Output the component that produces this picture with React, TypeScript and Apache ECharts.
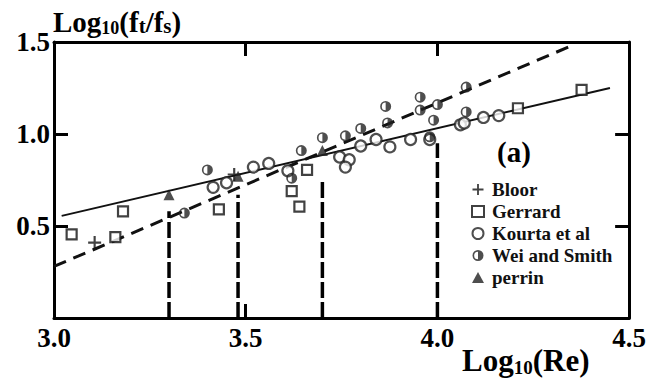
import React, { useEffect, useRef } from 'react';
import * as echarts from 'echarts';

// ---- data ----
const bloor: number[][] = [[3.106, 0.41], [3.47, 0.78]];
const gerrard: number[][] = [
  [3.046, 0.454], [3.18, 0.58], [3.16, 0.44], [3.43, 0.59], [3.62, 0.69],
  [3.64, 0.605], [3.66, 0.805], [4.21, 1.14], [4.376, 1.24],
];
const kourta: number[][] = [
  [3.415, 0.71], [3.45, 0.735], [3.52, 0.82], [3.56, 0.84], [3.61, 0.80],
  [3.745, 0.875], [3.77, 0.86], [3.76, 0.82], [3.80, 0.935], [3.84, 0.97],
  [3.876, 0.93], [3.93, 0.97], [3.98, 0.97], [4.06, 1.05], [4.12, 1.09],
  [4.16, 1.10], [4.07, 1.06],
];
const wei: number[][] = [
  [3.34, 0.57], [3.40, 0.805], [3.62, 0.76], [3.645, 0.91], [3.70, 0.98],
  [3.76, 0.99], [3.80, 1.03], [3.865, 1.15], [3.87, 1.06], [3.955, 1.20],
  [3.955, 1.13], [4.0, 1.16], [3.99, 1.075], [3.98, 0.985], [4.075, 1.255],
  [4.075, 1.12],
];
const perrin: number[][] = [[3.30, 0.67], [3.48, 0.77], [3.70, 0.91]];
const solidFit: number[][] = [[3.02, 0.555], [4.45, 1.25]];
const dashedFit: number[][] = [[3.0, 0.28], [4.35, 1.48]];
const dropX: number[] = [3.3, 3.48, 3.7, 4.0];
const dropTop: number[] = [0.58, 0.67, 0.76, 0.95];
const legendNames: string[] = ['Bloor', 'Gerrard', 'Kourta et al', 'Wei and Smith', 'perrin'];

const FONT = '"Liberation Serif", "Times New Roman", serif';
const PLUS = 'path://M5,0H7V5H12V7H7V12H5V7H0V5H5Z';
const HALF =
  'path://M10,0A10,10,0,1,1,10,20A10,10,0,1,1,10,0ZM10,3A7,7,0,1,0,10,17A7,7,0,1,0,10,3ZM10,3A7,7,0,0,1,10,17Z';

export default function App() {
  const ref = useRef<HTMLDivElement>(null);
  useEffect(() => {
    if (!ref.current) return;
    const chart = echarts.init(ref.current, undefined, { renderer: 'svg' });
    const axisLine = { onZero: false, lineStyle: { color: '#000', width: 3 } };
    const axisTick = { inside: true, length: 14, lineStyle: { color: '#000', width: 3 } };
    const labelStyle = { fontFamily: FONT, fontWeight: 'bold' as const, fontSize: 27, color: '#000' };
    const drops = dropX.map((x, i) => ({
      type: 'line' as const,
      data: [[x, 0], [x, dropTop[i]]],
      symbol: 'none',
      z: 1,
      lineStyle: { color: '#000', width: 3.5, type: [16, 4] },
    }));
    chart.setOption({
      animation: false,
      backgroundColor: '#fff',
      grid: { left: 54, right: 12, top: 42, bottom: 65 },
      xAxis: [
        {
          type: 'value', min: 3, max: 4.5, interval: 0.5, position: 'bottom',
          axisLine, axisTick, splitLine: { show: false },
          axisLabel: { ...labelStyle, margin: 6, formatter: (v: number) => v.toFixed(1) },
        },
        {
          type: 'value', min: 3, max: 4.5, interval: 0.5, position: 'top',
          axisLine, axisTick, splitLine: { show: false }, axisLabel: { show: false },
        },
      ],
      yAxis: [
        {
          type: 'value', min: 0, max: 1.5, interval: 0.5, position: 'left',
          axisLine, axisTick, splitLine: { show: false },
          axisLabel: { ...labelStyle, margin: 4, formatter: (v: number) => (v === 0 ? '' : v.toFixed(1)) },
        },
        {
          type: 'value', min: 0, max: 1.5, interval: 0.5, position: 'right',
          axisLine, axisTick, splitLine: { show: false }, axisLabel: { show: false },
        },
      ],
      legend: {
        data: legendNames,
        orient: 'vertical',
        left: 471,
        top: 180,
        padding: 0,
        itemWidth: 12,
        itemHeight: 11,
        itemGap: 3,
        textStyle: {
          fontFamily: FONT, fontWeight: 'bold', fontSize: 19, color: '#111',
          lineHeight: 19, padding: [0, 0, 0, 3],
        },
      },
      series: [
        ...drops,
        {
          type: 'line', data: dashedFit, symbol: 'none', z: 2,
          lineStyle: { color: '#111', width: 3, type: [13, 8] },
        },
        {
          type: 'line', data: solidFit, symbol: 'none', z: 2,
          lineStyle: { color: '#111', width: 2 },
        },
        {
          name: 'Bloor', type: 'scatter', data: bloor, symbol: PLUS, symbolSize: 13, z: 5,
          itemStyle: { color: '#111' },
        },
        {
          name: 'Gerrard', type: 'scatter', data: gerrard, symbol: 'rect', symbolSize: 10, z: 5,
          itemStyle: { color: '#fff', borderColor: '#111', borderWidth: 2.2 },
        },
        {
          name: 'Kourta et al', type: 'scatter', data: kourta, symbol: 'circle', symbolSize: 11, z: 5,
          itemStyle: { color: '#fff', borderColor: '#222', borderWidth: 2.2 },
        },
        {
          name: 'Wei and Smith', type: 'scatter', data: wei, symbol: HALF, symbolSize: 11, z: 5,
          itemStyle: { color: '#222' },
        },
        {
          name: 'perrin', type: 'scatter', data: perrin, symbol: 'triangle', symbolSize: 11, z: 5,
          itemStyle: { color: '#222' },
        },
      ],
      graphic: [
        {
          type: 'text', left: 53, top: 7,
          style: {
            text: '{a|Log}{b|10}{a|(f}{c|t}{a|/f}{c|s}{a|)}',
            rich: {
              a: { fontFamily: FONT, fontWeight: 'bold', fontSize: 29, lineHeight: 30, fill: '#000' },
              b: { fontFamily: FONT, fontWeight: 'bold', fontSize: 18, lineHeight: 14, verticalAlign: 'bottom', fill: '#000' },
              c: { fontFamily: FONT, fontWeight: 'bold', fontSize: 21, lineHeight: 18, verticalAlign: 'bottom', fill: '#000' },
            },
          },
        },
        {
          type: 'text', left: 462, top: 345,
          style: {
            text: '{a|Log}{b|10}{a|(Re)}',
            rich: {
              a: { fontFamily: FONT, fontWeight: 'bold', fontSize: 31, lineHeight: 33, fill: '#000' },
              b: { fontFamily: FONT, fontWeight: 'bold', fontSize: 19, lineHeight: 15, verticalAlign: 'bottom', fill: '#000' },
            },
          },
        },
        {
          type: 'text', left: 497, top: 137,
          style: {
            text: '(a)',
            font: 'bold 29px "Liberation Serif", serif', fill: '#000',
          },
        },
      ],
    });
    return () => chart.dispose();
  }, []);
  return (
    <div
      ref={ref}
      style={{ position: 'fixed', left: 0, top: 0, width: 649, height: 383, background: '#fff' }}
    />
  );
}
